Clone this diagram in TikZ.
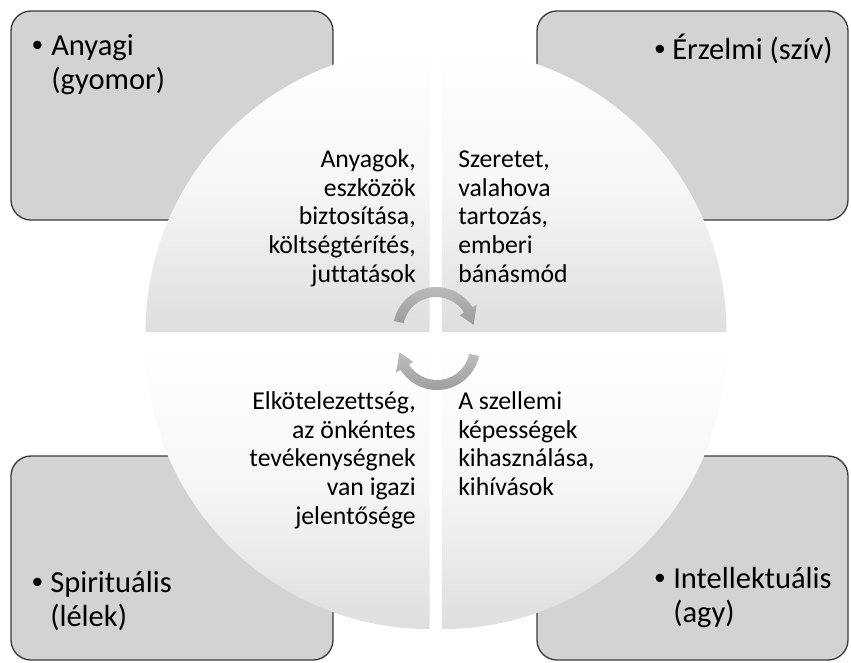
\documentclass[tikz,border=0pt]{standalone}
\usepackage{fontspec}
\setmainfont{Carlito}[Ligatures=NoCommon]
\newfontfamily\bulletfont{Liberation Sans}
\usetikzlibrary{calc}
\definecolor{boxfill}{RGB}{211,211,211}
\definecolor{boxline}{RGB}{60,60,60}
\definecolor{qgrey}{RGB}{222,222,222}
\definecolor{qmid}{RGB}{246,246,246}
\definecolor{arrlight}{RGB}{190,190,190}
\definecolor{arrdark}{RGB}{155,155,155}
\begin{document}
\begin{tikzpicture}[x=0.75pt,y=-0.75pt,
  cornerbox/.style={draw=boxline, fill=boxfill, line width=1pt, rounded corners=15pt},
  quarter/.style={top color=white, bottom color=qgrey, middle color=qmid, draw=none},
  cyclearrow/.style={top color=arrlight, bottom color=arrdark, draw=none},
  boxtext/.style={inner sep=0pt, font=\fontsize{22.9}{25.5}\selectfont, align=left, anchor=base west},
  bulletmark/.style={inner sep=0pt, font=\bulletfont\fontsize{22.9}{25.5}\selectfont, anchor=base},
  innerleft/.style={inner sep=0pt, font=\fontsize{19.3}{21.4}\selectfont, align=left, anchor=base west},
  innerright/.style={inner sep=0pt, font=\fontsize{19.3}{21.4}\selectfont, align=right, anchor=base east}]
\useasboundingbox (0,0) rectangle (851,662);
% corner boxes
\draw[cornerbox] (11,11) rectangle (333,220);
\draw[cornerbox] (537,11) rectangle (848,220);
\draw[cornerbox] (11,456) rectangle (333,660);
\draw[cornerbox] (537,456) rectangle (848,660);
% quarters
\path[quarter] (429.5,332) -- ++(-284,0) arc[start angle=180, end angle=270, radius=284] -- cycle;
\path[quarter] (442.5,332) -- ++(0,-284) arc[start angle=270, end angle=360, radius=284] -- cycle;
\path[quarter] (442.5,345) -- ++(284,0) arc[start angle=0, end angle=90, radius=284] -- cycle;
\path[quarter] (429.5,345) -- ++(0,284) arc[start angle=90, end angle=180, radius=284] -- cycle;
% cycle arrows
\coordinate (c1) at (436,330);
\coordinate (c2) at (437,347);
\path[cyclearrow] ($(c1)+(-168:43)$) arc[start angle=-168, end angle=-32, radius=43]
  -- ($(c1)+(-32:48)$) -- ($(c1)+(-8:38)$) -- ($(c1)+(-32:28)$) -- ($(c1)+(-32:33)$)
  arc[start angle=-32, end angle=-168, radius=33] -- cycle;
\path[cyclearrow] ($(c2)+(12:43)$) arc[start angle=12, end angle=148, radius=43]
  -- ($(c2)+(148:48)$) -- ($(c2)+(172:38)$) -- ($(c2)+(148:28)$) -- ($(c2)+(148:33)$)
  arc[start angle=148, end angle=12, radius=33] -- cycle;
% corner texts
\node[bulletmark] (b1) at (37.5,55) {•};
\node[boxtext] (t1) at (51,89) {Anyagi\\(gyomor)};
\node[bulletmark] (b2) at (660,59) {•};
\node[boxtext] (t2) at (672,59) {Érzelmi (szív)};
\node[bulletmark] (b3) at (37.5,592) {•};
\node[boxtext] (t3) at (50,626) {Spirituális\\(lélek)};
\node[bulletmark] (b4) at (660,588) {•};
\node[boxtext] (t4) at (673,622) {Intellektuális\\(agy)};
% inner texts
\node[innerright] (q1) at (416,282) {Anyagok,\\eszközök\\biztosítása,\\költségtérítés,\\juttatások};
\node[innerleft] (q2) at (458,282) {Szeretet,\\valahova\\tartozás,\\emberi\\bánásmód};
\node[innerright] (q3) at (416,524) {Elkötelezettség,\\az önkéntes\\tevékenységnek\\van igazi\\jelentősége};
\node[innerleft] (q4) at (458,495.5) {A szellemi\\képességek\\kihasználása,\\kihívások};
\end{tikzpicture}
\end{document}
